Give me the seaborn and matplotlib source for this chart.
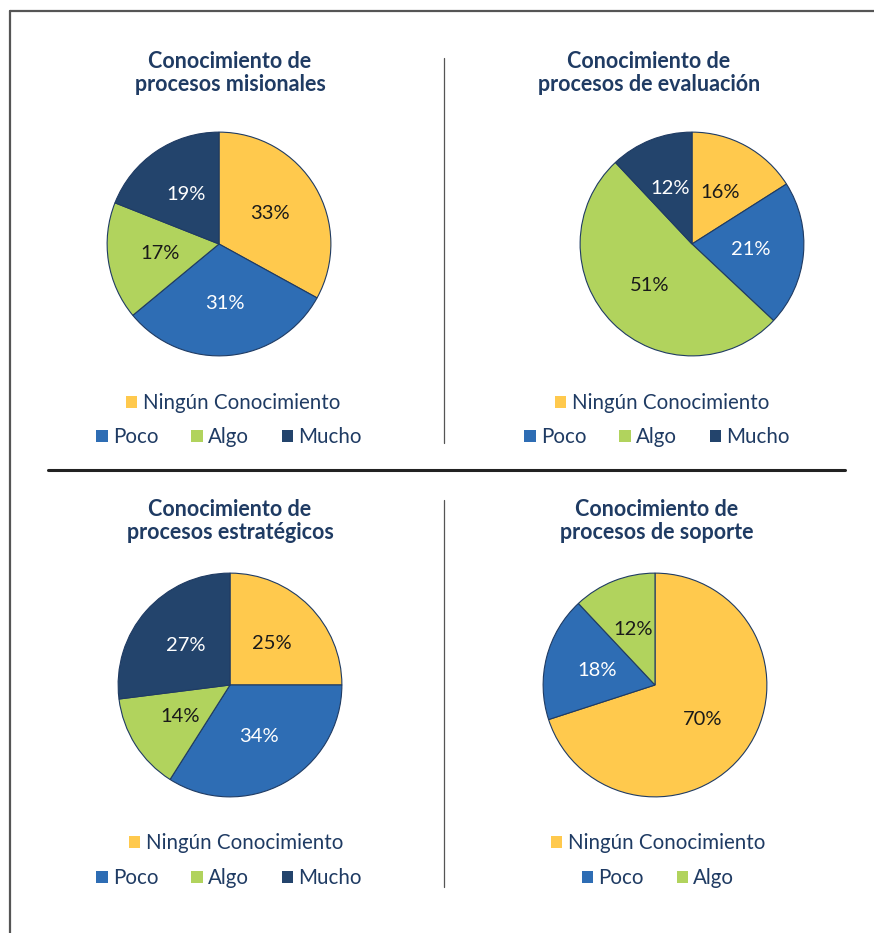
import seaborn as sns
import matplotlib.pyplot as plt
from matplotlib.patches import Patch
from matplotlib.lines import Line2D

sns.set_style("white")
plt.rcParams['font.family'] = ['Lato', 'DejaVu Sans']

# data
titulos = ["Conocimiento de\nprocesos misionales",
           "Conocimiento de\nprocesos de evaluación",
           "Conocimiento de\nprocesos estratégicos",
           "Conocimiento de\nprocesos de soporte"]
categorias = ["Ningún Conocimiento", "Poco", "Algo", "Mucho"]
misionales = [33, 31, 17, 19]
evaluacion = [16, 21, 51, 12]
estrategicos = [25, 34, 14, 27]
soporte = [70, 18, 12]

colores = ["#FFC94D", "#2E6DB4", "#B1D35D", "#23446C"]
color_txt = ["#1a1a1a", "white", "#1a1a1a", "white"]
navy = "#1F3B63"

W, H = 874, 933
fig = plt.figure(figsize=(W / 100, H / 100), dpi=100)

def fx(x):
    return x / W

def fy(y):
    return 1 - y / H

# frame + dividers
fig.add_artist(Line2D([fx(10), 1], [fy(11), fy(11)], color="#555555", lw=1.6))
fig.add_artist(Line2D([fx(10), fx(10)], [fy(11), 0], color="#555555", lw=1.6))
fig.add_artist(Line2D([fx(48), fx(845)], [fy(470), fy(470)], color="#222222", lw=2.2))
fig.add_artist(Line2D([fx(444), fx(444)], [fy(58), fy(443)], color="#555555", lw=0.9))
fig.add_artist(Line2D([fx(444), fx(444)], [fy(500), fy(887)], color="#555555", lw=0.9))

paneles = [
    (misionales, titulos[0], (219, 244), (230, 73), (233, 403), (229, 437)),
    (evaluacion, titulos[1], (692, 244), (649, 73), (662, 403), (657, 437)),
    (estrategicos, titulos[2], (230, 685), (230, 521), (236, 843), (229, 878)),
    (soporte, titulos[3], (655, 685), (657, 521), (658, 843), (658, 878)),
]

r = 113
for vals, titulo, (cx, cy), (tx, ty), (lx1, ly1), (lx2, ly2) in paneles:
    n = len(vals)
    ax = fig.add_axes([fx(cx - r), fy(cy + r), 2 * r / W, 2 * r / H])
    wedges, texts, autotexts = ax.pie(
        vals, colors=colores[:n], startangle=90, counterclock=False,
        autopct="%d%%", pctdistance=0.53,
        wedgeprops=dict(edgecolor=navy, linewidth=0.8),
        textprops=dict(fontsize=14.5))
    for t, c in zip(autotexts, color_txt):
        t.set_color(c)
    ax.set_xlim(-1.01, 1.01)
    ax.set_ylim(-1.01, 1.01)
    ax.set_aspect("equal")
    ax.axis("off")

    fig.text(fx(tx), fy(ty), titulo, ha="center", va="center", fontsize=15.5,
             fontweight="bold", color=navy, linespacing=1.1)

    handles = [Patch(facecolor=colores[i], edgecolor="none") for i in range(n)]
    fig.legend(handles[:1], categorias[:1], loc="center",
               bbox_to_anchor=(fx(lx1), fy(ly1)), frameon=False, fontsize=14.8,
               handlelength=0.55, handleheight=0.55, handletextpad=0.25,
               labelcolor=navy, borderpad=0, borderaxespad=0)
    fig.legend(handles[1:], categorias[1:n], loc="center", ncol=n - 1,
               bbox_to_anchor=(fx(lx2), fy(ly2)), frameon=False, fontsize=14.8,
               handlelength=0.55, handleheight=0.55, handletextpad=0.25,
               columnspacing=1.6, labelcolor=navy, borderpad=0, borderaxespad=0)

fig.savefig("out.png", dpi=100)
